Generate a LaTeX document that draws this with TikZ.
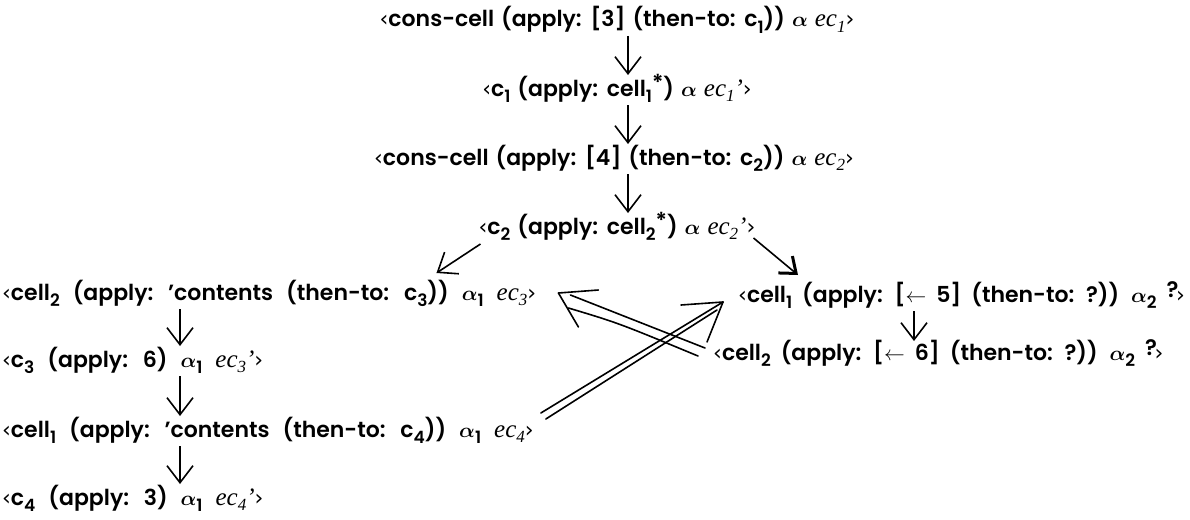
\documentclass[tikz,border=0pt]{standalone}
\usepackage{amsmath}
\usepackage{bm}
\usepackage{fontspec}
\setmainfont{Poppins}[BoldFont={Poppins SemiBold}]
\newfontfamily\ecfont{Liberation Serif}
\newfontfamily\gfont{DejaVu Sans}
\usetikzlibrary{arrows.meta,calc}
\newcommand{\ecx}[1]{{\ecfont\itshape\mdseries\fontsize{25}{28}\selectfont ec\raisebox{-0.45ex}{\fontsize{17}{17}\selectfont #1}}}
\newcommand{\sbx}[1]{\raisebox{-0.5ex}{\fontsize{17}{17}\selectfont #1}}
\newcommand{\al}{\ensuremath{\bm{\alpha}}}
\newcommand{\pr}{{\ecfont\itshape\mdseries\fontsize{25}{28}\selectfont\textquoteright}}
\newcommand{\opn}{{\gfont\mdseries ‹}}
\newcommand{\cls}{{\gfont\mdseries ›}}
\newcommand{\qm}{\raisebox{0.35ex}{?}\kern-0.1em\cls}
\newcommand{\st}{\raisebox{0.45ex}{*}}
\newcommand{\tspA}{\spaceskip=7pt plus 1pt\relax}
\newcommand{\tspB}{\spaceskip=13pt plus 1pt\relax}
\newcommand{\tspC}{\spaceskip=10pt plus 1pt\relax}
\tikzset{
  txt/.style={inner sep=0pt, font=\fontsize{22}{26}\selectfont\bfseries\tspA},
  ltxt/.style={inner sep=0pt, font=\fontsize{22}{26}\selectfont\bfseries\tspB},
  rtxt/.style={inner sep=0pt, font=\fontsize{22}{26}\selectfont\bfseries\tspC},
  arr/.style={line width=1.6pt, -{Straight Barb[length=17pt,width=26pt,line width=1.6pt]}},
  harr/.style={line width=1.6pt, -{Straight Barb[length=14pt,width=22pt,line width=3pt]}},
  ln/.style={line width=1.6pt, line cap=round}
}
\begin{document}
\begin{tikzpicture}[x=1pt,y=-1pt]
\useasboundingbox (0,0) rectangle (1190,519);
% columns
\coordinate (colT) at (628,0);
\coordinate (colL) at (180,0);
\coordinate (colR) at (914,0);
% nodes
\node[txt, anchor=base] (l1) at (617,27) {\opn cons-cell (apply: [3] (then-to: c\sbx{1})) \al{} \ecx{1}\cls};
\node[txt, anchor=base] (l2) at (617,96) {\opn c\sbx{1} (apply: cell\sbx{1}\st) \al{} \ecx{1}\pr\cls};
\node[txt, anchor=base] (l3) at (614,165) {\opn cons-cell (apply: [4] (then-to: c\sbx{2})) \al{} \ecx{2}\cls};
\node[txt, anchor=base] (l4) at (617,234) {\opn c\sbx{2} (apply: cell\sbx{2}\st) \al{} \ecx{2}\pr\cls};
\node[ltxt, anchor=base west] (l5) at (2,300) {\opn cell\sbx{2} (apply: \textquoteright contents (then-to: c\sbx{3})) \al\sbx{1} \ecx{3}\cls};
\node[ltxt, anchor=base west] (l6) at (2,367) {\opn c\sbx{3} (apply: 6) \al\sbx{1} \ecx{3}\pr\cls};
\node[ltxt, anchor=base west] (l7) at (2,437) {\opn cell\sbx{1} (apply: \textquoteright contents (then-to: c\sbx{4})) \al\sbx{1} \ecx{4}\cls};
\node[ltxt, anchor=base west] (l8) at (2,505) {\opn c\sbx{4} (apply: 3) \al\sbx{1} \ecx{4}\pr\cls};
\node[rtxt, anchor=base west] (r5) at (738,302) {\opn cell\sbx{1} (apply: [$\leftarrow$ 5] (then-to: ?)) \al\sbx{2} \qm};
\node[rtxt, anchor=base west] (r6) at (713,360) {\opn cell\sbx{2} (apply: [$\leftarrow$ 6] (then-to: ?)) \al\sbx{2} \qm};
% vertical arrows
\draw[arr] ([yshift=-9pt]l1.base -| colT) -- ([yshift=21pt]l2.base -| colT);
\draw[arr] ([yshift=-9pt]l2.base -| colT) -- ([yshift=21pt]l3.base -| colT);
\draw[arr] ([yshift=-9pt]l3.base -| colT) -- ([yshift=21pt]l4.base -| colT);
\draw[arr] ([yshift=-9pt]l5.base -| colL) -- ([yshift=21pt]l6.base -| colL);
\draw[arr] ([yshift=-9pt]l6.base -| colL) -- ([yshift=21pt]l7.base -| colL);
\draw[arr] ([yshift=-9pt]l7.base -| colL) -- ([yshift=21pt]l8.base -| colL);
\draw[arr] ([yshift=-9pt]r5.base -| colR) -- ([yshift=19pt]r6.base -| colR);
% branching arrows
\draw[arr] ([xshift=2pt,yshift=-10pt]l4.base west) -- ([xshift=-42pt,yshift=-39pt]l4.base west);
\draw[harr] ([xshift=-2pt,yshift=-4pt]l4.base east) -- ([xshift=60pt,yshift=27pt]r5.base west);
% crossing double arrows: cell1 (ec4) -> cell1 [<- 5]
\coordinate (tA) at ([xshift=-15pt,yshift=0pt]r5.base west);
\draw[ln] ([xshift=7pt,yshift=24pt]l7.base east) -- (tA);
\draw[ln] ([xshift=12pt,yshift=18pt]l7.base east) -- ([xshift=-6pt,yshift=-8pt]tA);
\draw[ln] (tA) -- ([xshift=-42pt,yshift=-3pt]tA);
\draw[ln] (tA) -- ([xshift=-16pt,yshift=-40pt]tA);
% crossing double arrows: cell2 [<- 6] -> cell2 (ec3)
\coordinate (tB) at ([xshift=22pt,yshift=7pt]l5.base east);
\draw[ln] ([xshift=-8pt,yshift=12pt]r6.base west) -- ([xshift=12pt,yshift=-2pt]tB);
\draw[ln] ([xshift=-15pt,yshift=4pt]r6.base west) .. controls ([xshift=60pt,yshift=-30pt]tB) .. ([xshift=10pt,yshift=-15pt]tB);
\draw[ln] (tB) -- ([xshift=40pt,yshift=3pt]tB);
\draw[ln] (tB) -- ([xshift=20pt,yshift=-34pt]tB);
\end{tikzpicture}
\end{document}
